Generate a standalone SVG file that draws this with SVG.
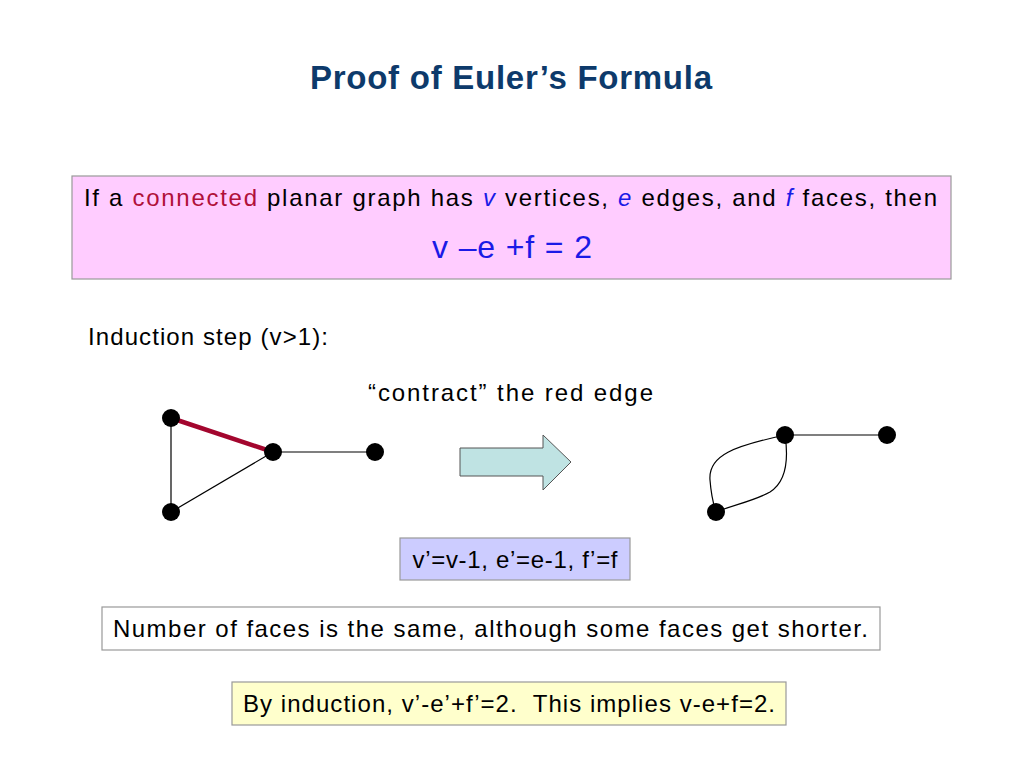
<svg xmlns="http://www.w3.org/2000/svg" width="1024" height="768" viewBox="0 0 1024 768">
<style>
text{font-family:"Liberation Sans","DejaVu Sans",sans-serif;font-size:24px;fill:#000}
.title{font-size:33px;font-weight:bold;fill:#0d3a6b}
.blue{fill:#1a1ae6}
.red{fill:#b0103a}
.formula{font-size:32px;fill:#1a1ae6}
.box{stroke:#999;stroke-width:1.2}
.edge{stroke:#000;stroke-width:1.2;fill:none}
.node{fill:#000}
</style>
<rect width="1024" height="768" fill="#fff"/>
<text class="title" x="511" y="89" text-anchor="middle" textLength="402">Proof of Euler’s Formula</text>

<g id="theorem">
<rect class="box" x="72" y="176" width="879" height="103" fill="#ffccff"/>
<text x="84" y="206" textLength="853">If a <tspan class="red">connected</tspan> planar graph has <tspan class="blue" font-style="italic">v</tspan>  vertices, <tspan class="blue" font-style="italic">e</tspan>  edges, and <tspan class="blue" font-style="italic">f</tspan>  faces, then</text>
<text class="formula" x="512" y="258" text-anchor="middle" textLength="160">v –e +f = 2</text>
</g>

<text x="88" y="345" textLength="240">Induction step (v&gt;1):</text>
<text x="368" y="401" textLength="285">“contract” the red edge</text>

<g id="connectors">
<line class="edge" x1="171" y1="418" x2="171" y2="512"/>
<line class="edge" x1="171" y1="512" x2="273" y2="452"/>
<line class="edge" x1="273" y1="452" x2="375" y2="452"/>
<line x1="171" y1="418" x2="273" y2="452" stroke="#a3062e" stroke-width="4.5"/>
<path class="edge" d="M785,435 C735,446 708,455 710,480 C711,493 713,503 716,512"/>
<path class="edge" d="M785,435 C789,462 786,482 770,492 C754,501 733,505 716,512"/>
<line class="edge" x1="785" y1="435" x2="887" y2="435"/>
</g>

<g id="nodes-left">
<circle class="node" cx="171" cy="418" r="9"/>
<circle class="node" cx="273" cy="452" r="9"/>
<circle class="node" cx="375" cy="452" r="9"/>
<circle class="node" cx="171" cy="512" r="9"/>
</g>

<g id="arrow">
<polygon points="460,448 543,448 543,435 571,462 543,490 543,476 460,476" fill="#bfe3e3" stroke="#555" stroke-width="1"/>
</g>

<g id="nodes-right">
<circle class="node" cx="785" cy="435" r="9"/>
<circle class="node" cx="887" cy="435" r="9"/>
<circle class="node" cx="716" cy="512" r="9"/>
</g>

<g id="update">
<rect class="box" x="400" y="538" width="230" height="42" fill="#ccccff"/>
<text x="515" y="568" text-anchor="middle" textLength="205">v’=v-1, e’=e-1, f’=f</text>
</g>

<g id="faces-note">
<rect class="box" x="102" y="607" width="778" height="43" fill="#ffffff"/>
<text x="113" y="637" textLength="755">Number of faces is the same, although some faces get shorter.</text>
</g>

<g id="conclusion">
<rect class="box" x="232" y="682" width="554" height="43" fill="#ffffcc"/>
<text x="243" y="712" textLength="532" xml:space="preserve">By induction, v’-e’+f’=2.  This implies v-e+f=2.</text>
</g>
</svg>
